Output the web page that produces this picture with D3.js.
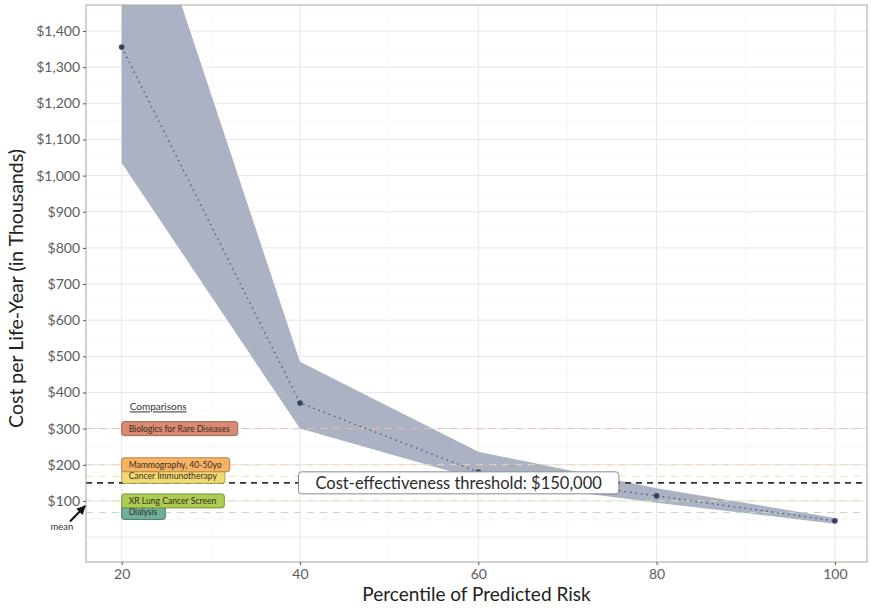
<!DOCTYPE html>
<html>
<head>
<meta charset="utf-8">
<script src="https://cdn.jsdelivr.net/npm/d3@7"></script>
<style>
  body { margin: 0; background: #fff; }
  text { font-family: Lato, "Open Sans", sans-serif; }
</style>
</head>
<body>
<svg id="chart"></svg>
<script>
// percentile of predicted risk
const percentiles = [20, 40, 60, 80, 100];
// cost per life-year, thousands
const meanCost = [1356, 371, 180, 114, 45];
const lowerCost = [1035, 300, 160, 95, 37];
const upperCost = [1970, 485, 236, 135, 53];

const yTicks = [100, 200, 300, 400, 500, 600, 700, 800, 900, 1000, 1100, 1200, 1300, 1400];
const xTicks = [20, 40, 60, 80, 100];

const compNames = ["Biologics for Rare Diseases", "Cancer Immunotherapy", "Mammography, 40-50yo", "Dialysis", "XR Lung Cancer Screen"];
const compValues = [300, 168, 200, 68, 100];
const compFill = ["#d98b72", "#f1da74", "#f6b365", "#6eae9d", "#aacd52"];
const compStroke = ["#9b5a48", "#a89640", "#b07a3a", "#3f7366", "#6f8a2c"];
const compLine = ["#ebbdb1", "#f0e4aa", "#f5d6aa", "#bddad1", "#dae6af"];

const threshold = 150;

const W = 871, H = 608;
const m = {left: 86, right: 4, top: 5, bottom: 46};

const svg = d3.select("#chart").attr("width", W).attr("height", H);

const x = d3.scaleLinear().domain([16, 103.6]).range([m.left, W - m.right]);
const y = d3.scaleLinear().domain([-69, 1472]).range([H - m.bottom, m.top]);

svg.append("defs").append("clipPath").attr("id", "clip")
    .append("rect")
    .attr("x", m.left).attr("y", m.top)
    .attr("width", W - m.left - m.right).attr("height", H - m.top - m.bottom);

const panel = svg.append("g").attr("clip-path", "url(#clip)");

// minor grid
d3.range(50, 1500, 100).forEach(v => {
    panel.append("line")
        .attr("x1", m.left).attr("x2", W - m.right)
        .attr("y1", y(v)).attr("y2", y(v))
        .attr("stroke", "#f3f3f3").attr("stroke-width", 0.6);
});
[30, 50, 70, 90].forEach(v => {
    panel.append("line")
        .attr("x1", x(v)).attr("x2", x(v))
        .attr("y1", m.top).attr("y2", H - m.bottom)
        .attr("stroke", "#f3f3f3").attr("stroke-width", 0.6);
});
// major grid
[0].concat(yTicks).forEach(v => {
    panel.append("line")
        .attr("x1", m.left).attr("x2", W - m.right)
        .attr("y1", y(v)).attr("y2", y(v))
        .attr("stroke", "#e6e6e6").attr("stroke-width", 1);
});
xTicks.forEach(v => {
    panel.append("line")
        .attr("x1", x(v)).attr("x2", x(v))
        .attr("y1", m.top).attr("y2", H - m.bottom)
        .attr("stroke", "#e6e6e6").attr("stroke-width", 1);
});

// ribbon
const area = d3.area()
    .x((d, i) => x(percentiles[i]))
    .y0((d, i) => y(lowerCost[i]))
    .y1((d, i) => y(upperCost[i]));
panel.append("path")
    .attr("d", area(percentiles))
    .attr("fill", "#aab2c3");

// comparison lines
compValues.forEach((v, i) => {
    panel.append("line")
        .attr("x1", m.left).attr("x2", W - m.right)
        .attr("y1", y(v)).attr("y2", y(v))
        .attr("stroke", compLine[i]).attr("stroke-width", 1)
        .attr("stroke-dasharray", "7,6");
});

// threshold line
panel.append("line")
    .attr("x1", m.left).attr("x2", W - m.right)
    .attr("y1", y(threshold)).attr("y2", y(threshold))
    .attr("stroke", "#333").attr("stroke-width", 1.6)
    .attr("stroke-dasharray", "6,5");

// mean line + points
const line = d3.line()
    .x((d, i) => x(percentiles[i]))
    .y((d, i) => y(meanCost[i]));
panel.append("path")
    .attr("d", line(meanCost))
    .attr("fill", "none")
    .attr("stroke", "#4a5470").attr("stroke-width", 1.3)
    .attr("stroke-dasharray", "1.5,4");
meanCost.forEach((v, i) => {
    panel.append("circle")
        .attr("cx", x(percentiles[i])).attr("cy", y(v))
        .attr("r", 2.8).attr("fill", "#39435c");
});

// comparison labels
panel.append("text")
    .attr("x", x(20) + 8).attr("y", y(360) + 3.5)
    .attr("font-size", 10).attr("fill", "#333")
    .attr("text-decoration", "underline")
    .text("Comparisons");

compNames.forEach((name, i) => {
    const g = panel.append("g");
    const t = g.append("text")
        .attr("x", x(20) + 7).attr("y", y(compValues[i]) + 3)
        .attr("font-size", 8.6).attr("fill", "#3b2a22")
        .text(name);
    const w = t.node().getComputedTextLength();
    g.insert("rect", "text")
        .attr("x", x(20)).attr("y", y(compValues[i]) - 7)
        .attr("width", w + 15).attr("height", 14)
        .attr("rx", 2.5)
        .attr("fill", compFill[i]).attr("stroke", compStroke[i]).attr("stroke-width", 0.9);
});

// threshold label
const tg = panel.append("g");
const tt = tg.append("text")
    .attr("x", x(57.8)).attr("y", y(threshold) + 6)
    .attr("text-anchor", "middle")
    .attr("font-size", 16.5).attr("fill", "#2b2b2b")
    .text("Cost-effectiveness threshold: $150,000");
const tw = tt.node().getComputedTextLength();
tg.insert("rect", "text")
    .attr("x", x(57.8) - tw / 2 - 17).attr("y", y(threshold) - 11)
    .attr("width", tw + 34).attr("height", 22)
    .attr("rx", 3)
    .attr("fill", "#fff").attr("stroke", "#8a8a8a").attr("stroke-width", 1);

// panel border
svg.append("rect")
    .attr("x", m.left).attr("y", m.top)
    .attr("width", W - m.left - m.right).attr("height", H - m.top - m.bottom)
    .attr("fill", "none").attr("stroke", "#a6a6a6").attr("stroke-width", 1);

// axes
const yAxis = svg.append("g")
    .attr("transform", `translate(${m.left},0)`)
    .call(d3.axisLeft(y).tickValues(yTicks).tickSize(3).tickPadding(3)
        .tickFormat(d => "$" + d3.format(",")(d)));
const xAxis = svg.append("g")
    .attr("transform", `translate(0,${H - m.bottom})`)
    .call(d3.axisBottom(x).tickValues(xTicks).tickSize(3).tickPadding(4));
[yAxis, xAxis].forEach(a => {
    a.select(".domain").remove();
    a.selectAll(".tick line").attr("stroke", "#555");
    a.selectAll(".tick text").attr("fill", "#5c5c5c").attr("font-size", 14)
        .attr("font-family", "Lato, sans-serif");
});

// axis titles
svg.append("text")
    .attr("x", (m.left + W - m.right) / 2).attr("y", 601)
    .attr("text-anchor", "middle")
    .attr("font-size", 19).attr("fill", "#222")
    .text("Percentile of Predicted Risk");
svg.append("text")
    .attr("transform", `translate(23,${(m.top + H - m.bottom) / 2 + 5}) rotate(-90)`)
    .attr("text-anchor", "middle")
    .attr("font-size", 19.5).attr("fill", "#222")
    .text("Cost per Life-Year (in Thousands)");

// mean annotation
svg.append("defs").append("marker")
    .attr("id", "arrow").attr("viewBox", "0 0 10 10")
    .attr("refX", 9).attr("refY", 5)
    .attr("markerWidth", 4.5).attr("markerHeight", 4.5)
    .attr("orient", "auto")
    .append("path").attr("d", "M0,0 L10,5 L0,10 z").attr("fill", "#111");
svg.append("line")
    .attr("x1", x(14.2)).attr("y1", y(43))
    .attr("x2", x(15.9)).attr("y2", y(86))
    .attr("stroke", "#111").attr("stroke-width", 2)
    .attr("marker-end", "url(#arrow)");
svg.append("text")
    .attr("x", x(13.3)).attr("y", y(20))
    .attr("text-anchor", "middle")
    .attr("font-size", 9.5).attr("fill", "#333")
    .text("mean");
</script>
</body>
</html>
